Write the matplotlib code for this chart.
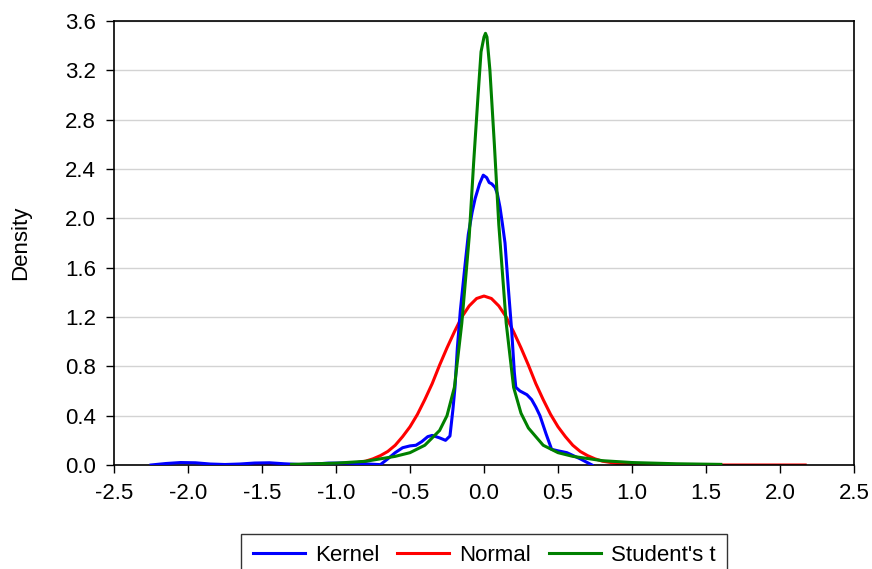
import matplotlib
matplotlib.use("Agg")
from matplotlib import pyplot as plt

plt.rcParams['font.family'] = ['Liberation Sans', 'DejaVu Sans']

# kernel density
kernel_x = [-2.25, -2.15, -2.05, -1.95, -1.85, -1.75, -1.65, -1.55, -1.45, -1.35,
            -1.25, -1.15, -1.05, -0.95, -0.85, -0.75, -0.70, -0.65, -0.60, -0.55,
            -0.50, -0.46, -0.42, -0.38, -0.35, -0.30, -0.26, -0.23, -0.21, -0.196,
            -0.18, -0.16, -0.13, -0.106, -0.08, -0.06, -0.03, -0.005, 0.018, 0.035,
            0.052, 0.075, 0.09, 0.108, 0.125, 0.142, 0.164, 0.187, 0.205, 0.215,
            0.243, 0.29, 0.322, 0.35, 0.378, 0.42, 0.457, 0.50, 0.56, 0.65, 0.73]
kernel_y = [0.0, 0.012, 0.02, 0.018, 0.008, 0.004, 0.008, 0.016, 0.018, 0.01,
            0.004, 0.008, 0.015, 0.016, 0.012, 0.006, 0.003, 0.05, 0.10, 0.14,
            0.155, 0.16, 0.19, 0.23, 0.24, 0.22, 0.20, 0.235, 0.45, 0.63,
            0.95, 1.25, 1.60, 1.87, 2.05, 2.16, 2.28, 2.35, 2.33, 2.29,
            2.28, 2.25, 2.20, 2.09, 1.95, 1.80, 1.44, 1.09, 0.75, 0.63,
            0.60, 0.57, 0.53, 0.47, 0.40, 0.25, 0.127, 0.115, 0.10, 0.05, 0.0]

# normal density
normal_x = [-1.8, -1.4, -1.2, -1.0, -0.9, -0.8, -0.75, -0.7, -0.65, -0.6, -0.55,
            -0.5, -0.45, -0.4, -0.35, -0.3, -0.25, -0.2, -0.15, -0.1, -0.05, 0.0,
            0.05, 0.1, 0.15, 0.2, 0.25, 0.3, 0.35, 0.4, 0.45, 0.5, 0.55, 0.6,
            0.65, 0.7, 0.75, 0.8, 0.9, 1.0, 1.2, 1.4, 1.8, 2.17]
normal_y = [0.0, 0.0, 0.0002, 0.004, 0.012, 0.031, 0.05, 0.076, 0.11, 0.16, 0.23,
            0.31, 0.41, 0.53, 0.66, 0.81, 0.95, 1.08, 1.20, 1.29, 1.35, 1.37,
            1.35, 1.29, 1.20, 1.08, 0.95, 0.81, 0.66, 0.53, 0.41, 0.31, 0.23, 0.16,
            0.11, 0.076, 0.05, 0.031, 0.012, 0.004, 0.0002, 0.0, 0.0, 0.0]

# student's t density
student_x = [-1.3, -1.0, -0.8, -0.6, -0.5, -0.4, -0.3, -0.25, -0.2, -0.15,
             -0.1, -0.07, -0.04, -0.02, 0.0, 0.01, 0.02, 0.04, 0.07, 0.1,
             0.15, 0.2, 0.25, 0.3, 0.4, 0.5, 0.6, 0.8, 1.0, 1.3, 1.6]
student_y = [0.005, 0.015, 0.03, 0.07, 0.10, 0.16, 0.28, 0.40, 0.63, 1.15,
             1.85, 2.45, 3.00, 3.35, 3.47, 3.50, 3.47, 3.20, 2.60, 1.95,
             1.15, 0.63, 0.42, 0.30, 0.16, 0.10, 0.07, 0.035, 0.02, 0.01, 0.005]

xticks = [-2.5, -2.0, -1.5, -1.0, -0.5, 0.0, 0.5, 1.0, 1.5, 2.0, 2.5]
yticks = [0.0, 0.4, 0.8, 1.2, 1.6, 2.0, 2.4, 2.8, 3.2, 3.6]

fig = plt.figure(figsize=(8.72, 5.69), dpi=100)
ax = fig.add_axes([114 / 872, 1 - 465 / 569, 740 / 872, 444 / 569])

ax.plot(kernel_x, kernel_y, color="blue", lw=2.2, label="Kernel", zorder=3)
ax.plot(normal_x, normal_y, color="red", lw=2.2, label="Normal", zorder=2)
ax.plot(student_x, student_y, color="green", lw=2.2, label="Student's t", zorder=4)

ax.set_xlim(-2.5, 2.5)
ax.set_ylim(0, 3.6)
ax.set_xticks(xticks)
ax.set_xticklabels(["%.1f" % v for v in xticks])
ax.set_yticks(yticks)
ax.set_yticklabels(["%.1f" % v for v in yticks])
ax.tick_params(direction="out", length=6, width=1, labelsize=16, colors="black")
ax.tick_params(axis="x", pad=7)
ax.tick_params(axis="y", pad=7)
ax.grid(axis="y", color="#d3d3d3", lw=1)
ax.set_axisbelow(True)
for s in ax.spines.values():
    s.set_linewidth(1.2)
ax.set_ylabel("Density", fontsize=16)
ax.yaxis.set_label_coords(-0.112, 0.5)

fig.legend(loc="upper center", bbox_to_anchor=(484 / 872, 1 - 534 / 569), ncol=3,
           fontsize=16, frameon=True, fancybox=False, edgecolor="#333333",
           framealpha=1, handlelength=2.35, columnspacing=0.8, borderpad=0.5,
           handletextpad=0.45, borderaxespad=0)

fig.savefig("out.png", dpi=100)
